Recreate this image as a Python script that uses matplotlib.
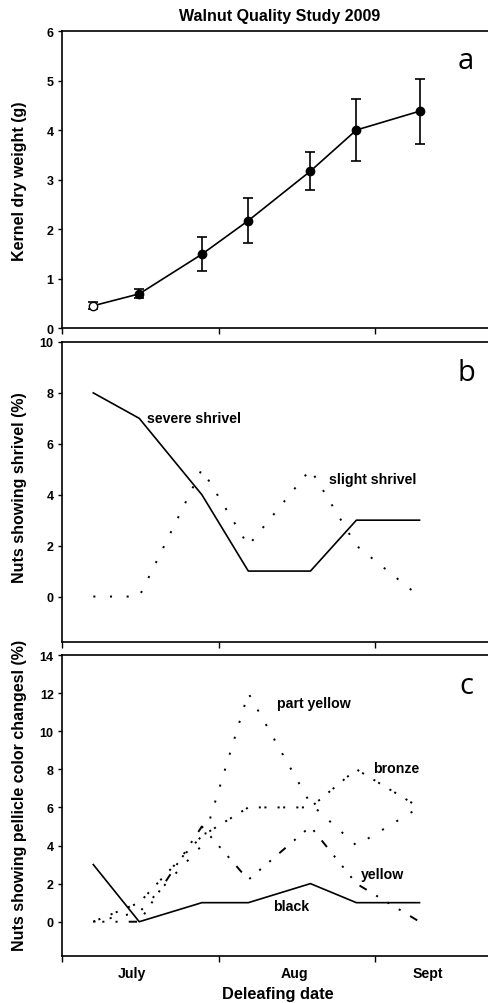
import matplotlib
matplotlib.use("Agg")
import matplotlib.pyplot as plt
import numpy as np

plt.rcParams['font.family'] = ['Liberation Sans', 'DejaVu Sans']
plt.rcParams['font.weight'] = 'bold'
plt.rcParams['axes.labelweight'] = 'bold'
plt.rcParams['lines.scale_dashes'] = False

# deleafing dates, days after July 1
dates = [6.2, 15.3, 27.7, 36.9, 49.2, 58.3, 70.8]

# panel a: kernel dry weight (g) with error bars
kernel_wt = [0.45, 0.69, 1.49, 2.17, 3.17, 4.0, 4.38]
kernel_err = [0.07, 0.09, 0.34, 0.46, 0.39, 0.62, 0.66]

# panel b: shrivel (%)
severe_shrivel = [8, 7, 4, 1, 1, 3, 3]
slight_shrivel = [0, 0, 5, 2, 5, 2, 0]

# panel c: pellicle colour changes (%)
black = [3, 0, 1, 1, 2, 1, 1]
part_yellow = [0, 0.5, 4, 12, 6.2, 4, 6]
bronze = [0, 1, 4.5, 6, 6, 8, 6]
yellow = [0, 0, 5, 2.2, 5, 2, 0]

month_edges = [0, 31, 62]
month_pos = [13.9, 46, 72.4]
month_labels = ['July', 'Aug', 'Sept']

fig = plt.figure(figsize=(4.88, 10.04), dpi=100)
ax_a = fig.add_axes([0.127, 0.6723, 1.0, 0.2958])
ax_b = fig.add_axes([0.127, 0.3592, 1.0, 0.2992])
ax_c = fig.add_axes([0.127, 0.0468, 1.0, 0.2998])

px_day = 5.05
xmax = 488 / px_day

for ax in (ax_a, ax_b, ax_c):
    ax.set_xlim(0, xmax)
    for s in ax.spines.values():
        s.set_linewidth(1.2)
    ax.spines['right'].set_visible(False)
    ax.set_xticks(month_edges)
    ax.set_xticklabels([])
    ax.tick_params(axis='both', direction='out', length=4, width=1.0,
                   labelsize=9)
    ax.tick_params(axis='y', length=3, pad=3)

dot = (0, (1.5, 10.5))

# --- panel a
ax_a.errorbar(dates[1:], kernel_wt[1:], yerr=kernel_err[1:], color='black',
              marker='o', markersize=6, lw=1.2, capsize=3.5, capthick=1.2,
              elinewidth=1.2)
ax_a.plot(dates[:2], kernel_wt[:2], color='black', lw=1.2)
ax_a.errorbar(dates[:1], kernel_wt[:1], yerr=kernel_err[:1], color='black',
              marker='o', markersize=6, mfc='white', lw=0, capsize=3.5,
              capthick=1.2, elinewidth=1.2)
ax_a.set_ylim(0, 6)
ax_a.set_yticks(range(0, 7))
ax_a.set_ylabel('Kernel dry weight (g)', fontsize=11.5)
ax_a.yaxis.set_label_coords(-0.072, 0.498)
fig.text(279.5 / 488, 1 - 16 / 1004, 'Walnut Quality Study 2009',
         fontsize=11.5, ha='center', va='center')

# --- panel b
ax_b.plot(dates, severe_shrivel, color='black', lw=1.2)
ax_b.plot(dates, slight_shrivel, color='black', lw=1.4, linestyle=dot)
ax_b.set_ylim(-1.8, 10)
ax_b.set_yticks(range(0, 11, 2))
ax_b.set_ylabel('Nuts showing shrivel (%)', fontsize=11.5)
ax_b.yaxis.set_label_coords(-0.072, 0.518)
ax_b.text(16.8, 7.0, 'severe shrivel', fontsize=10.2, va='center')
ax_b.text(52.9, 4.6, 'slight shrivel', fontsize=10.2, va='center')

# --- panel c
ax_c.plot(dates, black, color='black', lw=1.2)
ax_c.plot(dates, part_yellow, color='black', lw=1.4, linestyle=dot)
ax_c.plot(dates, bronze, color='black', lw=1.4,
          linestyle=(0, (1.5, 2.5, 1.5, 8)))
ax_c.plot(dates, yellow, color='black', lw=1.4,
          linestyle=(3, (1.5, 8, 1.5, 8, 1.5, 8, 6, 8)))
ax_c.set_ylim(-1.8, 14)
ax_c.set_yticks(range(0, 15, 2))
ax_c.set_ylabel('Nuts showing pellicle color changesl (%)', fontsize=11.5)
ax_c.yaxis.set_label_coords(-0.072, 0.538)
ax_c.text(42.5, 11.5, 'part yellow', fontsize=10.2, va='center')
ax_c.text(61.5, 8.05, 'bronze', fontsize=10.2, va='center')
ax_c.text(59.1, 2.5, 'yellow', fontsize=10.2, va='center')
ax_c.text(41.7, 0.8, 'black', fontsize=10.2, va='center')
ax_c.set_xticks(month_pos, minor=True)
ax_c.set_xticklabels(month_labels, minor=True, fontsize=10.2)
ax_c.tick_params(axis='x', which='minor', length=0, pad=7)
ax_c.set_xlabel('Deleafing date', fontsize=11.8)
ax_c.xaxis.set_label_coords((278 - 62) / 488, -0.099)
ax_c.xaxis.label.set_va('top')

for ax, letter in zip((ax_a, ax_b, ax_c), 'abc'):
    ax.text((466 - 62) / 488, 0.9, letter, transform=ax.transAxes,
            fontsize=21, family='Open Sans', fontweight='normal',
            ha='center', va='center')

fig.savefig('out.png', dpi=100)
